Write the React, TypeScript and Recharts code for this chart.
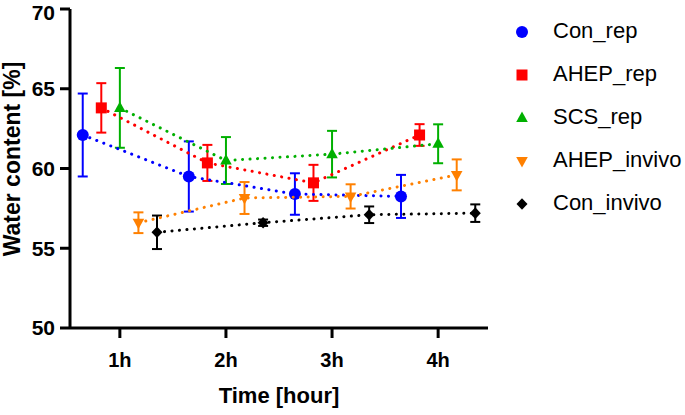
import React from 'react';
import { ScatterChart, Scatter, XAxis, YAxis, ErrorBar, Legend } from 'recharts';

const hours = [1, 2, 3, 4];
const hourLabels = ['1h', '2h', '3h', '4h'];
const yTicks = [50, 55, 60, 65, 70];

const conRep = [62.1, 59.5, 58.4, 58.25];
const conRepSd = [2.6, 2.2, 1.3, 1.35];
const ahepRep = [63.8, 60.35, 59.1, 62.1];
const ahepRepSd = [1.55, 1.13, 1.13, 0.68];
const scsRep = [63.8, 60.5, 60.9, 61.55];
const scsRepSd = [2.5, 1.47, 1.46, 1.22];
const ahepInvivo = [56.6, 58.15, 58.25, 59.6];
const ahepInvivoSd = [0.65, 1.0, 0.76, 0.97];
const conInvivo = [56.0, 56.6, 57.1, 57.2];
const conInvivoSd = [1.05, 0.2, 0.52, 0.55];

const FONT = '"Liberation Sans", Arial, Helvetica, sans-serif';

type Kind = 'circle' | 'square' | 'up' | 'down' | 'diamond';

const drawMarker = (kind: Kind, cx: number, cy: number, color: string) => {
  switch (kind) {
    case 'circle':
      return <circle cx={cx} cy={cy} r={6} fill={color} />;
    case 'square':
      return <rect x={cx - 5.5} y={cy - 5.5} width={11} height={11} fill={color} />;
    case 'up':
      return <polygon points={`${cx},${cy - 6.5} ${cx - 5.8},${cy + 4} ${cx + 5.8},${cy + 4}`} fill={color} />;
    case 'down':
      return <polygon points={`${cx - 5.8},${cy - 4} ${cx + 5.8},${cy - 4} ${cx},${cy + 6.5}`} fill={color} />;
    case 'diamond':
    default:
      return <polygon points={`${cx},${cy - 5.8} ${cx + 5.5},${cy} ${cx},${cy + 5.8} ${cx - 5.5},${cy}`} fill={color} />;
  }
};

const seriesDefs = [
  { name: 'Con_rep', values: conRep, sd: conRepSd, color: '#0000FF', kind: 'circle' as Kind, offset: -0.35 },
  { name: 'AHEP_rep', values: ahepRep, sd: ahepRepSd, color: '#FF0000', kind: 'square' as Kind, offset: -0.175 },
  { name: 'SCS_rep', values: scsRep, sd: scsRepSd, color: '#00B000', kind: 'up' as Kind, offset: 0 },
  { name: 'AHEP_invivo', values: ahepInvivo, sd: ahepInvivoSd, color: '#FF8000', kind: 'down' as Kind, offset: 0.175 },
  { name: 'Con_invivo', values: conInvivo, sd: conInvivoSd, color: '#000000', kind: 'diamond' as Kind, offset: 0.35 },
];

const series = seriesDefs.map((s) => ({
  ...s,
  data: hours.map((h, i) => ({ x: h + s.offset, y: s.values[i], err: s.sd[i] })),
}));

const renderLegend = () => (
  <div style={{ fontFamily: FONT }}>
    {series.map((s) => (
      <div key={s.name} style={{ height: 43, position: 'relative' }}>
        <svg width={34} height={20} style={{ position: 'absolute', left: 0, top: 11.5 }}>
          {drawMarker(s.kind, 17, 10, s.color)}
        </svg>
        <span style={{ position: 'absolute', left: 48, top: 6, fontSize: 22, color: '#000', lineHeight: '30px', whiteSpace: 'nowrap' }}>
          {s.name}
        </span>
      </div>
    ))}
  </div>
);

export default function App() {
  return (
    <div style={{ position: 'absolute', left: 0, top: 0, width: 685, height: 415, background: '#fff' }}>
      <ScatterChart width={685} height={415} margin={{ top: 9, right: 197, bottom: 0, left: 0 }}>
        <XAxis
          type="number"
          dataKey="x"
          domain={[0.53, 4.47]}
          ticks={hours}
          allowDataOverflow
          tickFormatter={(v: number) => hourLabels[hours.indexOf(v)] ?? `${v}h`}
          height={87}
          axisLine={{ stroke: '#000', strokeWidth: 3 }}
          tickLine={{ stroke: '#000', strokeWidth: 3 }}
          tickSize={10}
          tickMargin={15}
          tick={{ fill: '#000', fontSize: 20, fontWeight: 'bold', fontFamily: FONT }}
          label={(props: any) => (
            <text
              x={279}
              y={403}
              textAnchor="middle"
              fill="#000"
              style={{ fontSize: 22, fontWeight: 'bold', fontFamily: FONT }}
            >
              Time [hour]
            </text>
          )}
        />
        <YAxis
          type="number"
          dataKey="y"
          domain={[50, 70]}
          ticks={yTicks}
          allowDataOverflow
          width={70}
          axisLine={{ stroke: '#000', strokeWidth: 3 }}
          tickLine={{ stroke: '#000', strokeWidth: 3 }}
          tickSize={10}
          tickMargin={5}
          tick={{ fill: '#000', fontSize: 21, fontWeight: 'bold', fontFamily: FONT }}
          label={(props: any) => (
            <text
              x={20}
              y={159}
              transform="rotate(-90 20 159)"
              textAnchor="middle"
              fill="#000"
              style={{ fontSize: 23, fontWeight: 'bold', fontFamily: FONT }}
            >
              Water content [%]
            </text>
          )}
        />
        <Legend
          layout="horizontal"
          verticalAlign="middle"
          align="center"
          content={renderLegend}
          wrapperStyle={{ position: 'absolute', left: 505, top: 10, width: 180 }}
        />
        {series.map((s) => (
          <Scatter
            key={s.name}
            name={s.name}
            data={s.data}
            fill={s.color}
            isAnimationActive={false}
            line={{ stroke: s.color, strokeWidth: 3, strokeDasharray: '0.1 7.4', strokeLinecap: 'round' }}
            lineType="joint"
            shape={(p: any) => drawMarker(s.kind, p.cx, p.cy, s.color)}
          >
            <ErrorBar dataKey="err" direction="y" width={5} stroke={s.color} strokeWidth={2} />
          </Scatter>
        ))}
      </ScatterChart>
    </div>
  );
}
